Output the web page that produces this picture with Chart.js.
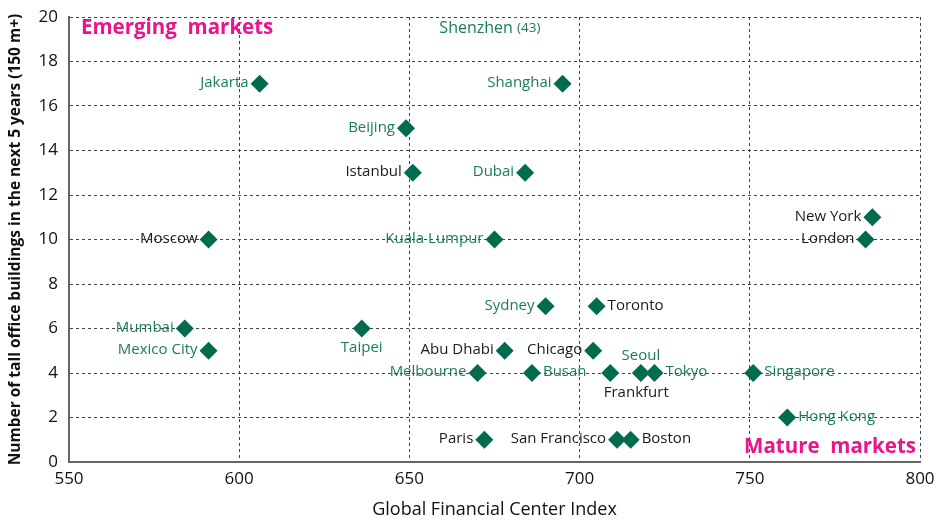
<!DOCTYPE html>
<html>
<head>
<meta charset="utf-8">
<script src="https://cdn.jsdelivr.net/npm/chart.js@4/dist/chart.umd.min.js"></script>
<style>
  html, body { margin: 0; padding: 0; background: #fff; }
  #wrap { width: 937px; height: 521px; }
</style>
</head>
<body>
<div id="wrap"><canvas id="gfci-chart"></canvas></div>
<script>
// city data
const cities = [
  'Jakarta', 'Shanghai', 'Beijing', 'Istanbul', 'Dubai', 'New York', 'London',
  'Moscow', 'Kuala Lumpur', 'Sydney', 'Toronto', 'Mumbai', 'Taipei',
  'Mexico City', 'Abu Dhabi', 'Chicago', 'Melbourne', 'Busan', 'Frankfurt',
  'Seoul', 'Tokyo', 'Singapore', 'Hong Kong', 'Paris', 'San Francisco', 'Boston',
];
const gfciScores = [
  606, 695, 649, 651, 684, 786, 784,
  591, 675, 690, 705, 584, 636,
  591, 678, 704, 670, 686, 709,
  718, 722, 751, 761, 672, 711, 715,
];
const tallBuildings = [
  17, 17, 15, 13, 13, 11, 10,
  10, 10, 7, 7, 6, 6,
  5, 5, 5, 4, 4, 4,
  4, 4, 4, 2, 1, 1, 1,
];
// which side the city name sits on: l, r, t, b, br (below, shifted right)
const labelSide = [
  'l', 'l', 'l', 'l', 'l', 'l', 'l',
  'l', 'l', 'l', 'r', 'l', 'b',
  'l', 'l', 'l', 'l', 'r', 'br',
  't', 'r', 'r', 'r', 'l', 'l', 'r',
];
// names printed in green, the rest in black
const greenCities = [
  'Jakarta', 'Shanghai', 'Beijing', 'Dubai', 'Kuala Lumpur', 'Sydney', 'Mumbai',
  'Taipei', 'Mexico City', 'Melbourne', 'Busan', 'Seoul', 'Tokyo', 'Singapore',
  'Hong Kong',
];
// Shenzhen is off the top of the chart
const offChartCity = 'Shenzhen';
const offChartCount = 43;

const xTicks = [550, 600, 650, 700, 750, 800];
const yTicks = [0, 2, 4, 6, 8, 10, 12, 14, 16, 18, 20];

const COLORS = {
  marker: '#006b4f',
  greenText: '#1b7c5d',
  blackText: '#1a1a1a',
  magenta: '#e8158c',
  grid: '#444',
  axis: '#666',
};

const FONT = "'Open Sans', 'Noto Sans', sans-serif";

const cityLabelsPlugin = {
  id: 'cityLabels',
  afterDatasetsDraw(chart) {
    const { ctx, scales: { x, y }, chartArea } = chart;
    ctx.save();
    ctx.font = `15px ${FONT}`;
    cities.forEach((name, i) => {
      const px = x.getPixelForValue(gfciScores[i]);
      const py = y.getPixelForValue(tallBuildings[i]);
      ctx.fillStyle = greenCities.includes(name) ? COLORS.greenText : COLORS.blackText;
      const side = labelSide[i];
      ctx.textBaseline = 'middle';
      if (side === 'l') {
        ctx.textAlign = 'right';
        ctx.fillText(name, px - 11, py - 1);
      } else if (side === 'r') {
        ctx.textAlign = 'left';
        ctx.fillText(name, px + 11, py - 1);
      } else if (side === 'b') {
        ctx.textAlign = 'center';
        ctx.fillText(name, px, py + 19);
      } else if (side === 'br') {
        ctx.textAlign = 'center';
        ctx.fillText(name, px + 26, py + 20);
      } else {
        ctx.textAlign = 'center';
        ctx.fillText(name, px, py - 17);
      }
    });

    // Shenzhen note at the top
    const noteY = chartArea.top + 11;
    const noteX = x.getPixelForValue(658.8);
    ctx.fillStyle = COLORS.greenText;
    ctx.textAlign = 'left';
    ctx.font = `16px ${FONT}`;
    ctx.fillText(offChartCity, noteX, noteY);
    const countX = noteX + ctx.measureText(offChartCity + ' ').width;
    ctx.font = `13.5px ${FONT}`;
    ctx.fillText(`(${offChartCount})`, countX, noteY);

    // quadrant notes
    ctx.font = `bold 20.5px ${FONT}`;
    ctx.fillStyle = COLORS.magenta;
    ctx.textAlign = 'left';
    ctx.fillText('Emerging  markets', chartArea.left + 12, chartArea.top + 11);
    ctx.textAlign = 'right';
    ctx.fillText('Mature  markets', chartArea.right - 4, chartArea.bottom - 15);
    ctx.restore();
  },
};

const chartData = {
  datasets: [
    {
      label: 'Cities',
      data: cities.map((c, i) => ({ x: gfciScores[i], y: tallBuildings[i] })),
      pointStyle: 'rectRot',
      pointRadius: 9,
      pointHoverRadius: 9,
      backgroundColor: COLORS.marker,
      borderColor: COLORS.marker,
      borderWidth: 0,
    },
  ],
};

const options = {
  responsive: true,
  maintainAspectRatio: false,
  animation: false,
  layout: { padding: 0 },
  plugins: {
    legend: { display: false },
    tooltip: { enabled: false },
  },
  scales: {
    x: {
      type: 'linear',
      min: 550,
      max: 800,
      afterBuildTicks: (scale) => { scale.ticks = xTicks.map((v) => ({ value: v })); },
      afterFit: (scale) => {
        scale.height = 59;
        scale.paddingLeft = 0;
        scale.paddingRight = 17;
      },
      ticks: { color: '#111', font: { family: FONT, size: 17 }, padding: 7 },
      grid: { color: COLORS.grid, lineWidth: 1, drawTicks: false },
      border: { color: COLORS.axis, width: 2, dash: [3, 3] },
      title: {
        display: true,
        text: 'Global Financial Center Index',
        color: '#111',
        font: { family: FONT, size: 18 },
        padding: { top: 0, bottom: 0 },
      },
    },
    y: {
      type: 'linear',
      min: 0,
      max: 20,
      afterBuildTicks: (scale) => { scale.ticks = yTicks.map((v) => ({ value: v })); },
      afterFit: (scale) => {
        scale.width = 69;
        scale.paddingTop = 17;
        scale.paddingBottom = 0;
      },
      ticks: { color: '#111', font: { family: FONT, size: 17 }, padding: 11 },
      grid: { color: COLORS.grid, lineWidth: 1, drawTicks: false },
      border: { color: COLORS.axis, width: 2, dash: [3, 3] },
      title: {
        display: true,
        text: 'Number of tall office buildings in the next 5 years (150 m+)',
        color: '#111',
        font: { family: FONT, size: 15.5, weight: 'bold' },
        padding: { top: 6, bottom: 0 },
      },
    },
  },
};

new Chart(document.getElementById('gfci-chart').getContext('2d'), {
  type: 'scatter',
  data: chartData,
  options: options,
  plugins: [cityLabelsPlugin],
});
</script>
</body>
</html>
